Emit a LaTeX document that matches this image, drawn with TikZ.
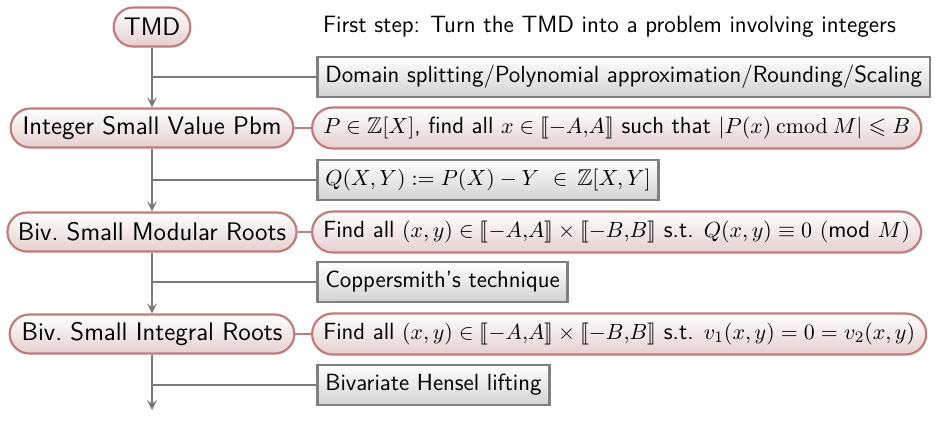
\documentclass[tikz,border=0pt]{standalone}
\usepackage{amsmath,amssymb}
\usepackage{stmaryrd}
\usetikzlibrary{shapes.misc,arrows.meta,shadows}
\renewcommand{\familydefault}{\sfdefault}
% formulas sit a little smaller than the surrounding sans text
\DeclareMathSizes{11.7}{11.4}{8}{6}

\definecolor{pillline}{HTML}{C27C7C}
\definecolor{pillbottom}{HTML}{E6CFD0}
\definecolor{boxline}{HTML}{808080}
\definecolor{boxbottom}{HTML}{D2D2D2}
\definecolor{flow}{HTML}{7A7A7A}

\tikzset{
  pill/.style={rounded rectangle, draw=pillline, line width=1.1pt,
    top color=white, bottom color=pillbottom, inner xsep=4pt,
    drop shadow={opacity=0.15, shadow xshift=0.4pt, shadow yshift=-0.6pt}},
  mainpill/.style={pill, font=\fontsize{12.7}{14}\selectfont, minimum height=19.5pt},
  sidepill/.style={pill, font=\fontsize{11.7}{13}\selectfont, minimum height=20.5pt, anchor=west},
  toolbox/.style={rectangle, draw=boxline, line width=1.3pt,
    top color=white, bottom color=boxbottom, anchor=west,
    font=\fontsize{11.7}{13}\selectfont, minimum height=20pt, inner xsep=4pt,
    drop shadow={opacity=0.15, shadow xshift=0.4pt, shadow yshift=-0.6pt}},
  flowline/.style={draw=flow, line width=0.8pt},
  flowarrow/.style={flowline, -{Stealth[length=5pt, width=5pt, inset=2pt]}},
}

\begin{document}
\begin{tikzpicture}[x=0.5pt, y=-0.5pt]
  \useasboundingbox (0,0) rectangle (935,423);

  % main chain of problems
  \node[mainpill] (tmd) at (152,27) {TMD};
  \node[mainpill] (isv) at (152,128) {Integer Small Value Pbm};
  \node[mainpill] (bsm) at (152,232) {Biv.~Small Modular Roots};
  \node[mainpill] (bsi) at (152,334) {Biv.~Small Integral Roots};
  \coordinate (next) at (152,410);

  \node[anchor=west, font=\fontsize{11.8}{13}\selectfont] (intro) at (316,27)
    {First step: Turn the TMD into a problem involving integers};

  % statements of each problem
  \node[sidepill] (isvdef) at (311,128)
    {$P\in\mathbb{Z}[X]$, find all $x\in\llbracket -A{,}A\rrbracket$ such that $|P(x)\mathbin{\mathrm{cmod}}M|\leqslant B$};
  \node[sidepill] (bsmdef) at (311,232)
    {Find all $(x,y)\in\llbracket -A{,}A\rrbracket\times\llbracket -B{,}B\rrbracket$ s.t. $Q(x,y)\equiv 0\ (\text{mod }M)$};
  \node[sidepill] (bsidef) at (311,334)
    {Find all $(x,y)\in\llbracket -A{,}A\rrbracket\times\llbracket -B{,}B\rrbracket$ s.t. $v_1(x,y)=0=v_2(x,y)$};

  % techniques used for each reduction
  \node[toolbox] (t1) at (316,77) {Domain splitting/Polynomial approximation/Rounding/Scaling};
  \node[toolbox] (t2) at (316,180) {$Q(X,Y) := P(X) - Y\ \in\,\mathbb{Z}[X,Y]$};
  \node[toolbox] (t3) at (316,282) {Coppersmith's technique};
  \node[toolbox] (t4) at (316,385) {Bivariate Hensel lifting};

  % arrows down the chain
  \draw[flowarrow] (tmd.south) -- (isv.north);
  \draw[flowarrow] (isv.south) -- (bsm.north);
  \draw[flowarrow] (bsm.south) -- (bsi.north);
  \draw[flowarrow] (bsi.south) -- (next);

  % branches to the techniques
  \draw[flowline] (t1.west) -- (t1.west -| tmd.south);
  \draw[flowline] (t2.west) -- (t2.west -| tmd.south);
  \draw[flowline] (t3.west) -- (t3.west -| tmd.south);
  \draw[flowline] (t4.west) -- (t4.west -| tmd.south);

  % links to the statements
  \draw[flowline, draw=pillline, line width=1.1pt] (isv.east) -- (isvdef.west);
  \draw[flowline, draw=pillline, line width=1.1pt] (bsm.east) -- (bsmdef.west);
  \draw[flowline, draw=pillline, line width=1.1pt] (bsi.east) -- (bsidef.west);
\end{tikzpicture}
\end{document}
